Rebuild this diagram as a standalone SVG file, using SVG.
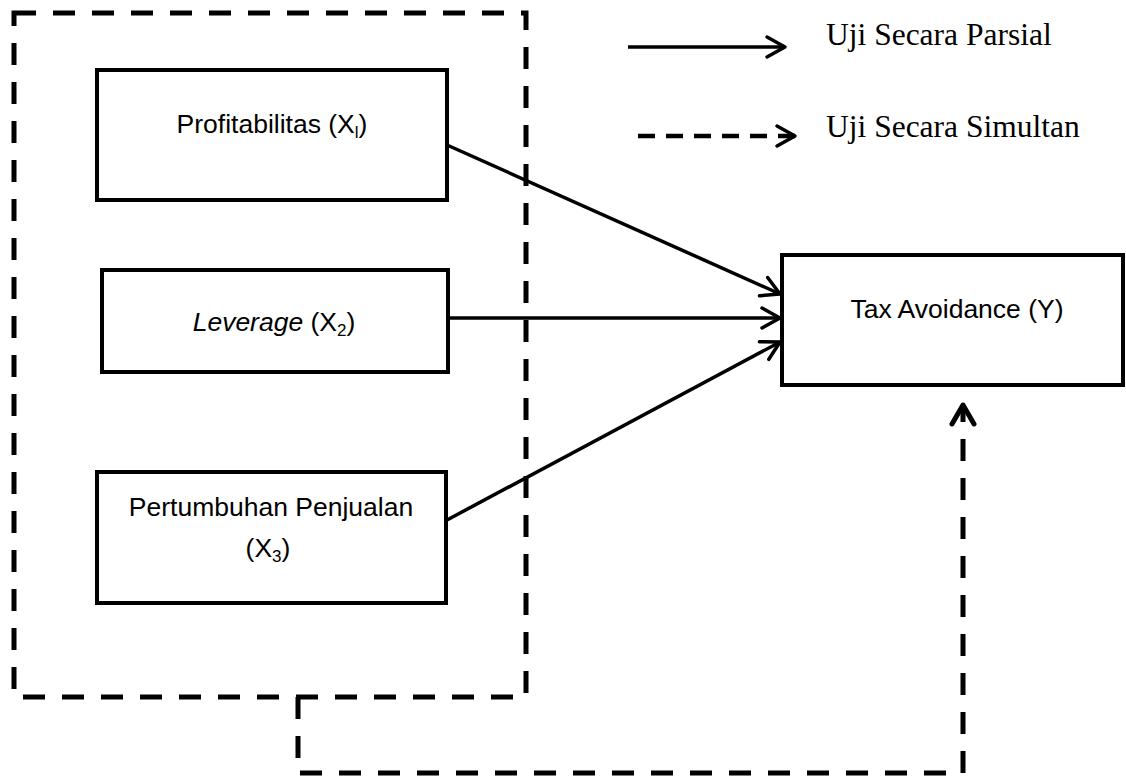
<svg xmlns="http://www.w3.org/2000/svg" width="1126" height="781" viewBox="0 0 1126 781">
<style>
.box{fill:#fff;stroke:#000;stroke-width:4}
.lbl{font-family:"Liberation Sans",Arial,sans-serif;font-size:26.5px;fill:#000;text-anchor:middle}
.leg{font-family:"Liberation Serif","Times New Roman",serif;font-size:31.5px;fill:#000}
.solid{fill:none;stroke:#000;stroke-width:3.5}
.dash{fill:none;stroke:#000;stroke-width:5;stroke-dasharray:22 17}
.dashleg{fill:none;stroke:#000;stroke-width:4.5;stroke-dasharray:17 11}
</style>
<defs>
<marker id="arr" markerUnits="userSpaceOnUse" viewBox="-24 -14 28 28" refX="0" refY="0" markerWidth="28" markerHeight="28" orient="auto">
<path d="M-18,-10 L0,0 L-18,10" fill="none" stroke="#000" stroke-width="3.5" stroke-dasharray="none" stroke-linejoin="round" stroke-linecap="round"/>
</marker>
<marker id="arrB" markerUnits="userSpaceOnUse" viewBox="-24 -14 28 28" refX="0" refY="0" markerWidth="28" markerHeight="28" orient="auto">
<path d="M-19,-11 L0,0 L-19,11" fill="none" stroke="#000" stroke-width="5" stroke-dasharray="none" stroke-linejoin="round" stroke-linecap="round"/>
</marker>
</defs>
<g id="group-box">
<rect x="14" y="13" width="512" height="684" class="dash"/>
</g>
<g id="connectors">
<line x1="447" y1="145" x2="780" y2="294" class="solid" marker-end="url(#arr)"/>
<line x1="448" y1="318" x2="780" y2="318" class="solid" marker-end="url(#arr)"/>
<line x1="447" y1="520" x2="780" y2="342" class="solid" marker-end="url(#arr)"/>
<path d="M298,697 L298,773 L963,773 L963,405" class="dash" marker-end="url(#arrB)"/>
</g>
<g id="node-x1">
<rect x="97" y="70" width="350" height="130" class="box"/>
<text x="272" y="133" class="lbl">Profitabilitas (X<tspan font-size="17" dy="5">l</tspan><tspan dy="-5">)</tspan></text>
</g>
<g id="node-x2">
<rect x="102" y="270" width="346" height="102" class="box"/>
<text x="274" y="331" class="lbl"><tspan font-style="italic">Leverage</tspan> (X<tspan font-size="17" dy="5">2</tspan><tspan dy="-5">)</tspan></text>
</g>
<g id="node-x3">
<rect x="97" y="472" width="349" height="131" class="box"/>
<text x="271" y="516" class="lbl">Pertumbuhan Penjualan</text>
<text x="268" y="557" class="lbl">(X<tspan font-size="17" dy="5">3</tspan><tspan dy="-5">)</tspan></text>
</g>
<g id="node-y">
<rect x="782" y="255" width="341" height="130" class="box"/>
<text x="957" y="318" class="lbl">Tax Avoidance (Y)</text>
</g>
<g id="legend">
<line x1="628" y1="47" x2="785" y2="47" class="solid" marker-end="url(#arr)"/>
<text x="826" y="45" class="leg">Uji Secara Parsial</text>
<line x1="638" y1="136" x2="795" y2="136" class="dashleg" marker-end="url(#arr)"/>
<text x="826" y="137" class="leg">Uji Secara Simultan</text>
</g>
</svg>
